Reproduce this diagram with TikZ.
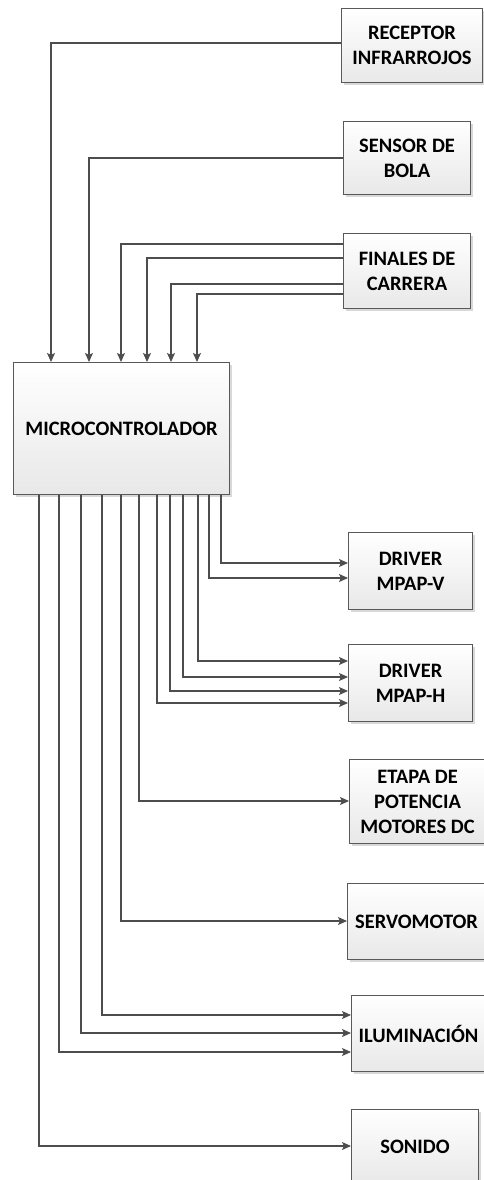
\documentclass[tikz,border=0pt]{standalone}
\usepackage{fontspec}
\setmainfont{Carlito}
\usetikzlibrary{arrows.meta,shadows,calc}
\definecolor{lin}{HTML}{4D4D4D}
\definecolor{bord}{HTML}{595959}
\tikzset{
  blk/.style={draw=bord, line width=1.1pt, rectangle, anchor=north west, inner sep=0pt,
    top color=white, bottom color=black!9, align=center,
    font=\fontsize{20.5}{25}\selectfont\bfseries,
    drop shadow={shadow xshift=2pt, shadow yshift=-2pt, fill=black!30, opacity=0.5}},
  conn/.style={draw=lin, line width=1.1pt, -{Stealth[length=9pt,width=8pt,inset=2pt]}}
}
\begin{document}
\begin{tikzpicture}[x=1pt,y=-1pt]
\useasboundingbox (0,0) rectangle (483,1180);
% boxes
\node[blk, minimum width=141pt, minimum height=74pt] (rec) at (341,8) {RECEPTOR\\INFRARROJOS};
\node[blk, minimum width=127pt, minimum height=73pt] (sen) at (343,121) {SENSOR DE\\BOLA};
\node[blk, minimum width=127pt, minimum height=75pt] (fin) at (343,233) {FINALES DE\\CARRERA};
\node[blk, minimum width=216pt, minimum height=132pt] (mcu) at (13,362) {MICROCONTROLADOR};
\node[blk, minimum width=124pt, minimum height=77pt] (dv) at (348,532) {DRIVER\\MPAP-V};
\node[blk, minimum width=124pt, minimum height=77pt] (dh) at (348,644) {DRIVER\\MPAP-H};
\node[blk, minimum width=136pt, minimum height=84pt] (eta) at (349,759) {ETAPA DE\\POTENCIA\\MOTORES DC};
\node[blk, minimum width=138pt, minimum height=76pt] (ser) at (347,883) {SERVOMOTOR};
\node[blk, minimum width=134pt, minimum height=76pt] (ilu) at (351,995) {ILUMINACIÓN};
\node[blk, minimum width=127pt, minimum height=74pt] (son) at (351,1109) {SONIDO};
% inputs
\draw[conn] (rec.west |- 0,43) -| (mcu.north -| 51,0);
\draw[conn] (sen.west |- 0,158) -| (mcu.north -| 89,0);
\draw[conn] (fin.west |- 0,244) -| (mcu.north -| 121,0);
\draw[conn] (fin.west |- 0,258) -| (mcu.north -| 147,0);
\draw[conn] (fin.west |- 0,284) -| (mcu.north -| 171,0);
\draw[conn] (fin.west |- 0,294) -| (mcu.north -| 197,0);
% outputs
\draw[conn] (mcu.south -| 221,0) |- (dv.west |- 0,563);
\draw[conn] (mcu.south -| 209,0) |- (dv.west |- 0,578);
\draw[conn] (mcu.south -| 198,0) |- (dh.west |- 0,661);
\draw[conn] (mcu.south -| 183,0) |- (dh.west |- 0,677);
\draw[conn] (mcu.south -| 170,0) |- (dh.west |- 0,691);
\draw[conn] (mcu.south -| 157,0) |- (dh.west |- 0,703);
\draw[conn] (mcu.south -| 139,0) |- (eta.west |- 0,801);
\draw[conn] (mcu.south -| 121,0) |- (ser.west |- 0,921);
\draw[conn] (mcu.south -| 102,0) |- (ilu.west |- 0,1015);
\draw[conn] (mcu.south -| 81,0) |- (ilu.west |- 0,1033);
\draw[conn] (mcu.south -| 59,0) |- (ilu.west |- 0,1052);
\draw[conn] (mcu.south -| 39,0) |- (son.west |- 0,1146);
\end{tikzpicture}
\end{document}
